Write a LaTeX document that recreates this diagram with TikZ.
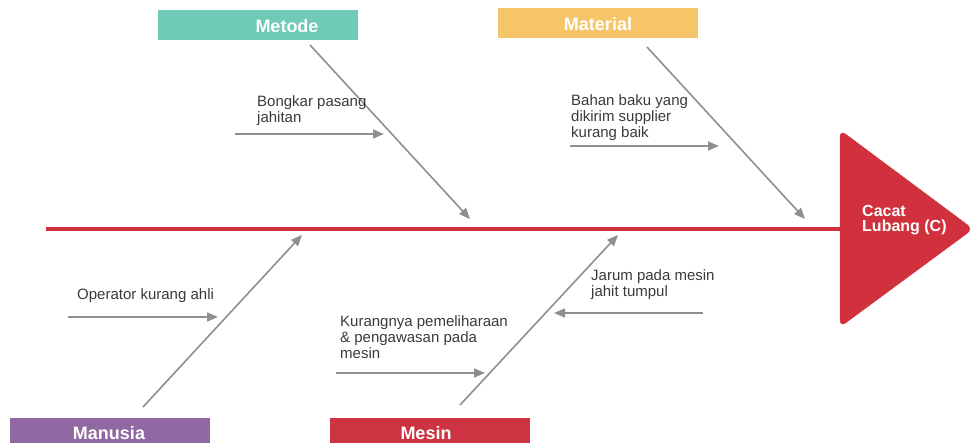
\documentclass[tikz,border=0pt]{standalone}
\usepackage{fontspec}
\setmainfont{Liberation Sans}
\usetikzlibrary{arrows.meta}
\definecolor{spinered}{HTML}{D0313D}
\definecolor{bonegray}{HTML}{8F8F8F}
\definecolor{metodecol}{HTML}{6FCAB6}
\definecolor{materialcol}{HTML}{F6C56A}
\definecolor{manusiacol}{HTML}{9169A2}
\definecolor{mesincol}{HTML}{CD3340}
\definecolor{inkgray}{HTML}{3A3A3A}
\tikzset{
  catbox/.style={minimum width=200pt, minimum height=30pt, inner sep=0pt, draw=none},
  cattext/.style={inner sep=0pt, text=white, font=\fontsize{18}{20}\selectfont\bfseries},
  % anchored at the baseline of the last line
  cause/.style={anchor=base west, inner sep=0pt, align=left, text=inkgray,
                font=\fontsize{15}{16}\selectfont},
  bone/.style={draw=bonegray, line width=1.6pt, -{Triangle[length=11pt,width=9pt]}},
}
\begin{document}
\begin{tikzpicture}[x=1pt,y=-1pt]
\useasboundingbox (0,0) rectangle (971,443);
\clip (0,0) rectangle (971,443);

% category boxes
\node[catbox, fill=metodecol] (metode) at (257.5,25.5) {};
\node[cattext] (metodeT) at (287,26) {Metode};
\node[catbox, fill=materialcol] (material) at (598,23.5) {};
\node[cattext] (materialT) at (598,24) {Material};
\node[catbox, fill=manusiacol] (manusia) at (109.5,433) {};
\node[cattext] (manusiaT) at (109,433) {Manusia};
\node[catbox, fill=mesincol] (mesin) at (429.5,433) {};
\node[cattext] (mesinT) at (426,433) {Mesin};

% head of the fish
\draw[fill=spinered, draw=spinered, rounded corners=7pt]
  (840,130) -- (973,229) -- (840,327) -- cycle;
\coordinate (headL) at (840,229);
\node[anchor=base west, inner sep=0pt, align=left, text=white,
      font=\fontsize{16}{15}\selectfont\bfseries] (effect) at (862,231.5)
  {Cacat\\Lubang (C)};

% spine
\coordinate (spineL) at (46,229);
\draw[spinered, line width=4.5pt] (spineL) -- (headL);

% main bones
\coordinate (m1s) at (310,45);   \coordinate (m1e) at (470,219);
\coordinate (m2s) at (647,47);   \coordinate (m2e) at (805,219);
\coordinate (m3s) at (143,407);  \coordinate (m3e) at (302,235);
\coordinate (m4s) at (460,405);  \coordinate (m4e) at (618,235);
\draw[bone] (m1s) -- (m1e);
\draw[bone] (m2s) -- (m2e);
\draw[bone] (m3s) -- (m3e);
\draw[bone] (m4s) -- (m4e);

% sub causes
\coordinate (c1s) at (235,134); \coordinate (c1e) at (384,134);
\coordinate (c2s) at (570,146); \coordinate (c2e) at (719,146);
\coordinate (c3s) at (68,317);  \coordinate (c3e) at (218,317);
\coordinate (c4s) at (336,373); \coordinate (c4e) at (485,373);
\coordinate (c5s) at (703,313); \coordinate (c5e) at (554,313);
\draw[bone] (c1s) -- (c1e);
\draw[bone] (c2s) -- (c2e);
\draw[bone] (c3s) -- (c3e);
\draw[bone] (c4s) -- (c4e);
\draw[bone] (c5s) -- (c5e);

\node[cause] (t1) at (257,123) {Bongkar pasang\\jahitan};
\node[cause] (t2) at (571,138) {Bahan baku yang\\dikirim supplier\\kurang baik};
\node[cause] (t3) at (77,300) {Operator kurang ahli};
\node[cause] (t4) at (340,358) {Kurangnya pemeliharaan\\\& pengawasan pada\\mesin};
\node[cause] (t5) at (591,297) {Jarum pada mesin\\jahit tumpul};
\end{tikzpicture}
\end{document}
